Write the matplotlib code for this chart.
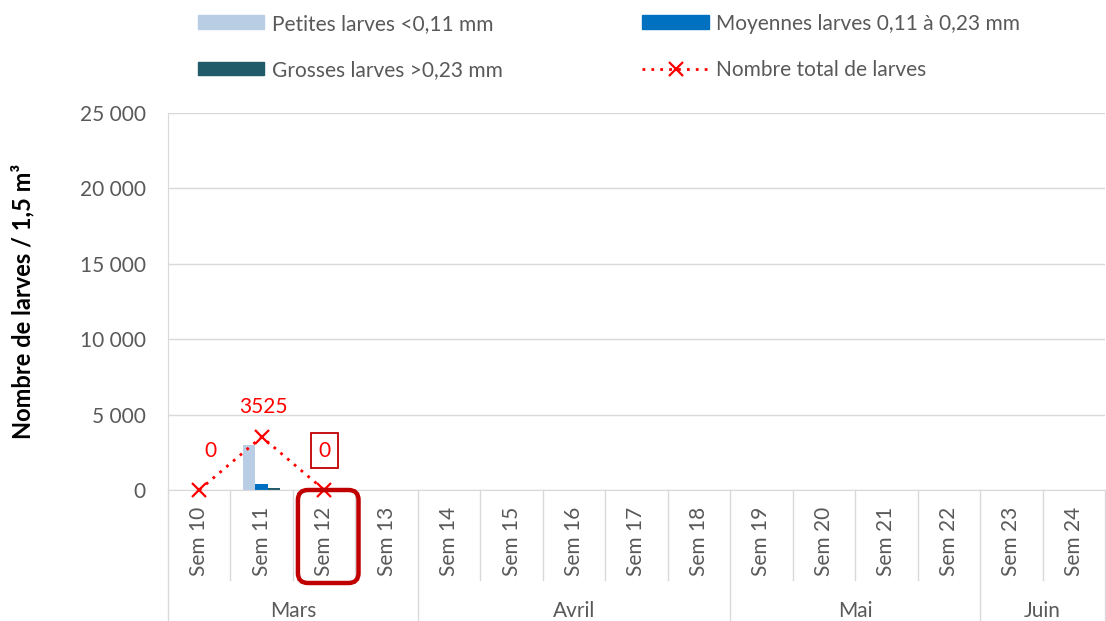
import numpy as np
import matplotlib.pyplot as plt
from matplotlib.patches import Patch, FancyBboxPatch
from matplotlib.lines import Line2D
import matplotlib.transforms as mtransforms

plt.rcParams['font.family'] = ['Lato', 'DejaVu Sans']

semaines = ['Sem 10', 'Sem 11', 'Sem 12', 'Sem 13', 'Sem 14', 'Sem 15', 'Sem 16', 'Sem 17',
            'Sem 18', 'Sem 19', 'Sem 20', 'Sem 21', 'Sem 22', 'Sem 23', 'Sem 24']
mois = ['Mars', 'Avril', 'Mai', 'Juin']
semaines_par_mois = [4, 5, 4, 2]

petites = [0, 3000, 0]
moyennes = [0, 425, 0]
grosses = [0, 100, 0]
total = [0, 3525, 0]

gris = '#595959'
rouge = '#FF0000'
fs = 15

fig = plt.figure(figsize=(11.06, 6.21), dpi=100)
W, H = 1106, 621
ax = fig.add_axes([168 / W, (H - 490) / H, (1105 - 168) / W, (490 - 113) / H])

x = np.arange(len(semaines))
n = len(petites)
larg = 0.2
ax.bar(x[:n] - larg, petites, larg, color='#B9CDE5', zorder=2)
ax.bar(x[:n], moyennes, larg, color='#0070C0', zorder=2)
ax.bar(x[:n] + larg, grosses, larg, color='#215A68', zorder=2)
ax.plot(x[:n], total, color=rouge, ls=(0, (1, 2.2)), lw=2, marker='x', ms=10, mew=1.6,
        zorder=3, clip_on=False)

# étiquettes de données
ax.annotate(str(total[0]), (x[0], total[0]), xytext=(8, 24), textcoords='offset points',
            ha='center', color=rouge, fontsize=fs)
ax.annotate(str(total[1]), (x[1], total[1]), xytext=(1, 17), textcoords='offset points',
            ha='center', color=rouge, fontsize=fs)
ax.annotate(str(total[2]), (x[2], total[2]), xytext=(0, 24), textcoords='offset points',
            ha='center', color=rouge, fontsize=fs,
            bbox=dict(boxstyle='square,pad=0.35', fc='white', ec='#C00000', lw=1.3))

ax.set_xlim(-0.5, len(semaines) - 0.5)
ax.set_ylim(0, 25000)
ax.set_yticks(np.arange(0, 25001, 5000))
ax.set_yticklabels([f'{v:,}'.replace(',', ' ') for v in range(0, 25001, 5000)])
ax.tick_params(axis='y', length=0, pad=16, labelsize=fs, labelcolor=gris)
ax.grid(axis='y', color='#D9D9D9', lw=1, zorder=0)
ax.set_axisbelow(True)
for s in ['top', 'right']:
    ax.spines[s].set_visible(False)
ax.spines['left'].set_color('#D9D9D9')
ax.spines['bottom'].set_color('#D9D9D9')

ax.set_xticks(x)
ax.set_xticklabels(semaines, rotation=90, fontsize=fs, color=gris)
ax.tick_params(axis='x', length=0, pad=12)

ax.set_ylabel('Nombre de larves / 1,5 m³', fontsize=17, fontweight='bold', color='black')
ax.yaxis.set_label_coords(-134 / 937, 0.5)

# séparateurs de l'axe à deux niveaux
trans = mtransforms.blended_transform_factory(ax.transData, ax.transAxes)
bas_sem = -90 / 377
bas_mois = -131 / 377
bornes = np.cumsum([0] + semaines_par_mois)
for i in range(len(semaines) + 1):
    xb = i - 0.5
    fin = bas_mois if i in bornes else bas_sem
    ax.plot([xb, xb], [0, fin], transform=trans, color='#D9D9D9', lw=1, clip_on=False)
for j, m in enumerate(mois):
    xc = (bornes[j] + bornes[j + 1] - 1) / 2
    ax.text(xc, -121 / 377, m, transform=trans, ha='center', va='center', fontsize=fs, color=gris)

# encadré autour de Sem 12
fig.canvas.draw()
x0 = ax.transData.transform((x[2] - 0.42, 0))[0]
x1 = ax.transData.transform((x[2] + 0.55, 0))[0]
y1 = ax.transAxes.transform((0, 0))[1]
y0 = ax.transAxes.transform((0, -93 / 377))[1]
cadre = FancyBboxPatch((x0, y0), x1 - x0, y1 - y0, boxstyle='round,pad=0,rounding_size=10',
                       fc='none', ec='#C00000', lw=3.2, transform=None, zorder=5)
fig.patches.append(cadre)

handles = [
    Patch(color='#B9CDE5', label='Petites larves <0,11 mm'),
    Patch(color='#215A68', label='Grosses larves >0,23 mm'),
    Patch(color='#0070C0', label='Moyennes larves 0,11 à 0,23 mm'),
    Line2D([], [], color=rouge, ls=(0, (1, 2.2)), lw=2, marker='x', ms=10, mew=1.6,
           label='Nombre total de larves'),
]
fig.legend(handles=handles, ncol=2, loc='upper left', bbox_to_anchor=(179 / W, 1 + 5 / H),
           frameon=False, fontsize=fs, labelcolor=gris, handlelength=3.2, handleheight=0.65,
           handletextpad=0.35, columnspacing=6.7, labelspacing=1.25)

fig.savefig('out.png', dpi=100)
